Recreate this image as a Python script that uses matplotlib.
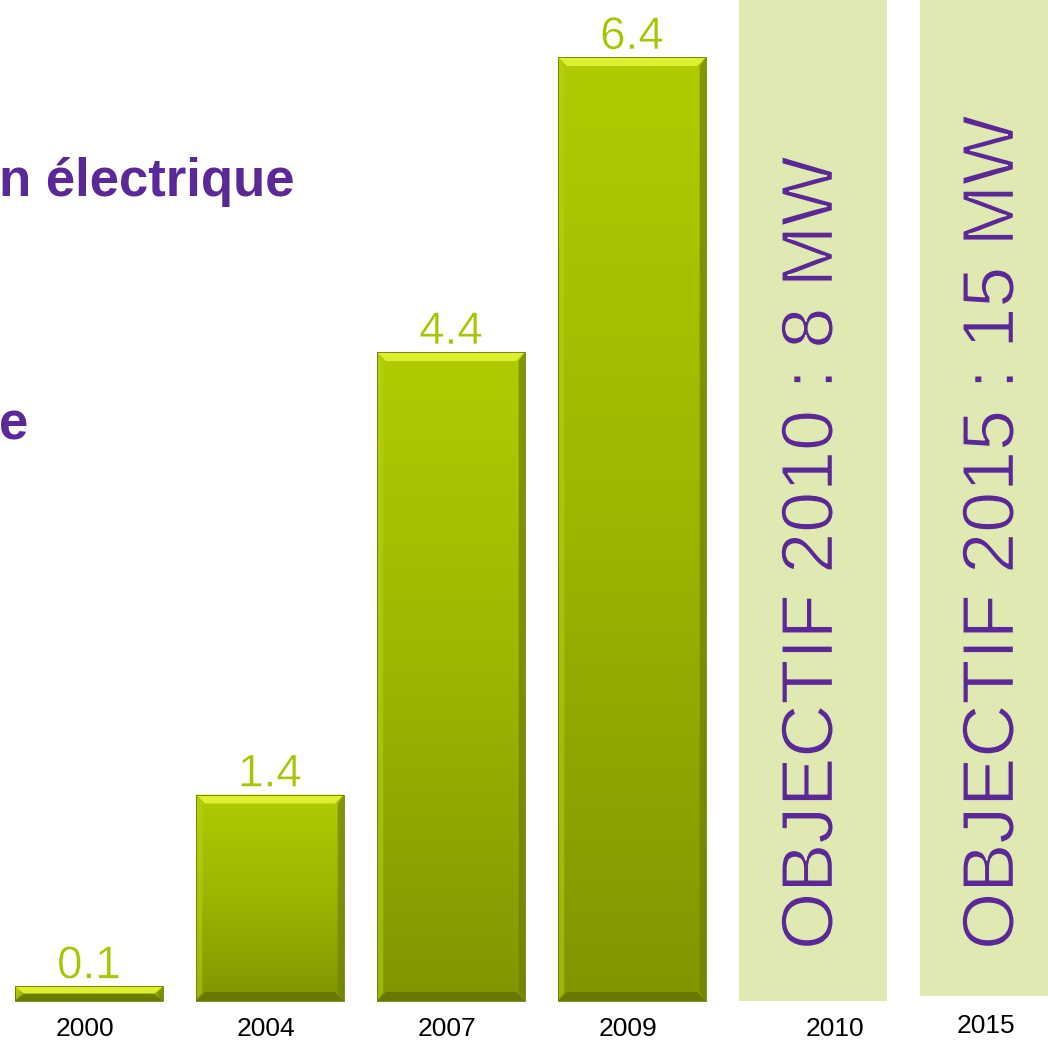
import matplotlib
matplotlib.use("Agg")
import matplotlib.pyplot as plt
import matplotlib.patheffects as pe
import numpy as np
from matplotlib.colors import LinearSegmentedColormap
from matplotlib.patches import Rectangle, Polygon
from matplotlib.transforms import ScaledTranslation

# ---- data ----
years = ["2000", "2004", "2007", "2009"]
values = [0.1, 1.4, 4.4, 6.4]
value_labels = ["0.1", "1.4", "4.4", "6.4"]
target_years = ["2010", "2015"]
target_texts = ["OBJECTIF 2010 : 8 MW", "OBJECTIF 2015 : 15 MW"]
title_lines = ["n électrique", "e"]

# ---- style ----
PURPLE = "#5b2897"
GREEN_TXT = "#a9c400"
LIGHT = "#e1e9b3"
plt.rcParams["font.family"] = ["Liberation Sans", "DejaVu Sans"]

W, H = 1048, 1040
fig = plt.figure(figsize=(W / 100, H / 100), dpi=100)
ax = fig.add_axes([0, 0, 1, 1])
PX_X, PX_Y = 181.0, 147.5
x_left = -89 / PX_X
ax.set_xlim(x_left, x_left + W / PX_X)
ax.set_ylim(-39 / PX_Y, (H - 39) / PX_Y)
ax.axis("off")

bw = 148 / PX_X
cmap = LinearSegmentedColormap.from_list("g", ["#819500", "#9cb500", "#b0cb02"])
grad = np.linspace(0, 1, 256).reshape(-1, 1)
bx, by = 9 / PX_X, 9 / PX_Y

xs = np.arange(len(years))
bars = ax.bar(xs, values, width=bw, color="#9cb500", zorder=2)
for b, lab in zip(bars, value_labels):
    x0, y0 = b.get_x(), b.get_y()
    x1, y1 = x0 + b.get_width(), y0 + b.get_height()
    im = ax.imshow(grad, cmap=cmap, origin="lower", aspect="auto",
                   extent=[x0, x1, y0, y1], zorder=3)
    im.set_clip_path(b)
    hb = min(by, (y1 - y0) / 2)
    # bevels
    ax.add_patch(Polygon([(x0, y1), (x1, y1), (x1 - bx, y1 - hb), (x0 + bx, y1 - hb)],
                         closed=True, fc="#dcef30", ec="none", zorder=4))
    ax.add_patch(Polygon([(x1, y1), (x1, y0), (x1 - bx * 0.7, y0 + hb), (x1 - bx * 0.7, y1 - hb)],
                         closed=True, fc="#6f8000", ec="none", alpha=0.7, zorder=4))
    ax.add_patch(Polygon([(x0, y1), (x0, y0), (x0 + bx * 0.7, y0 + hb), (x0 + bx * 0.7, y1 - hb)],
                         closed=True, fc="#b8d318", ec="none", alpha=0.5, zorder=4))
    ax.add_patch(Polygon([(x0, y0), (x1, y0), (x1 - bx, y0 + hb), (x0 + bx, y0 + hb)],
                         closed=True, fc="#5e6c00", ec="none", alpha=0.7, zorder=4))
    ax.add_patch(Rectangle((x0, y0), x1 - x0, y1 - y0, fc="none", ec="#6a7800",
                           lw=0.6, zorder=5))
    ax.text(b.get_x() + b.get_width() / 2, y1 + 8 / PX_Y, lab, ha="center", va="baseline",
            fontsize=33, color=GREEN_TXT, zorder=6,
            path_effects=[pe.Stroke(linewidth=0.4, foreground="white")])

# target bars
txs = np.arange(len(years), len(years) + len(target_years))
top = (H - 39) / PX_Y + 1
ax.bar(txs, [top, top], width=bw, bottom=[0, 0.035], color=LIGHT, zorder=1)
for x, t in zip(txs, target_texts):
    ax.text(x, 51 / PX_Y, t, rotation=90, ha="center", va="bottom",
            fontsize=53, color=PURPLE, zorder=6,
            path_effects=[pe.Stroke(linewidth=1.0, foreground=LIGHT)])

# year labels
all_years = years + target_years
for i, y in enumerate(all_years):
    dx = 22 if y == "2010" else (-8 if y == "2015" else -4)
    dy = 3 if y == "2015" else 0
    tr = ax.transData + ScaledTranslation(dx / 100, dy / 100, fig.dpi_scale_trans)
    ax.text(i, -28 / PX_Y, y, ha="center", va="center", fontsize=19,
            color="black", transform=tr)

# partial title text (cropped at left)
fig.text(-0.001, 1 - 196 / H, title_lines[0], ha="left", va="baseline",
         fontsize=38, fontweight="bold", color=PURPLE)
fig.text(-0.001, 1 - 439 / H, title_lines[1], ha="left", va="baseline",
         fontsize=38, fontweight="bold", color=PURPLE)

fig.savefig("out.png", dpi=100)
